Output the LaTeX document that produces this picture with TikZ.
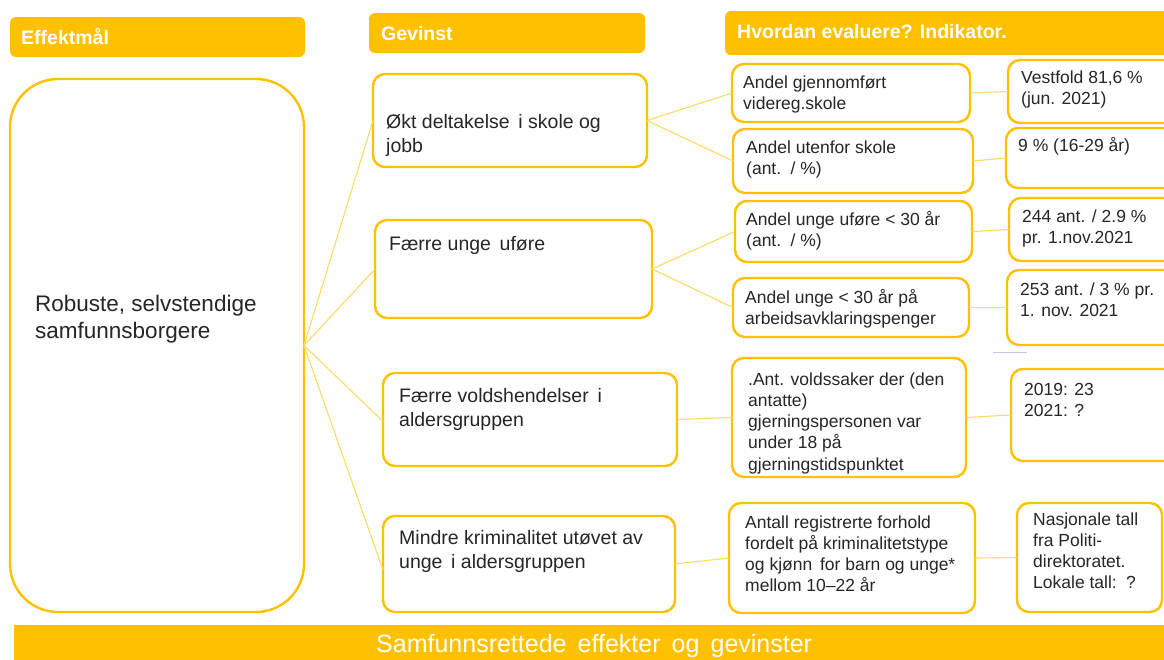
\documentclass[tikz,border=0pt]{standalone}
\usepackage{fontspec}
\setmainfont{Liberation Sans}
\definecolor{gold}{HTML}{FFC000}
\definecolor{linkc}{HTML}{FFD966}
\definecolor{txtc}{HTML}{262626}
\definecolor{lav}{HTML}{C8C8E6}
\begin{document}
\begin{tikzpicture}[x=1pt,y=-1pt,
  box/.style={draw=gold,line width=2.4pt,rounded corners=12pt,fill=white,anchor=north west,inner sep=0pt,outer sep=0pt},
  hdr/.style={fill=gold,rounded corners=6pt,anchor=north west,inner sep=0pt,outer sep=0pt},
  link/.style={draw=linkc,line width=1.1pt},
  htxt/.style={anchor=base west,inner sep=0pt,text=white,font=\bfseries\fontsize{19.5}{23}\selectfont},
  gtxt/.style={anchor=base west,inner sep=0pt,text=txtc,align=left,font=\fontsize{19.5}{24}\selectfont},
  itxt/.style={anchor=base west,inner sep=0pt,text=txtc,align=left,font=\fontsize{17.5}{21.3}\selectfont},
]
\useasboundingbox (0,0) rectangle (1164,659);
\clip (0,0) rectangle (1164,659);
\fill[white] (0,0) rectangle (1164,659);

% headers
\node[hdr,minimum width=295pt,minimum height=40pt] (heff) at (10,17) {};
\node[hdr,minimum width=276pt,minimum height=40pt] (hgev) at (369,13) {};
\node[hdr,minimum width=470pt,minimum height=44pt] (hhv) at (725,11) {};
\node[htxt] (theff) at (21,44) {Effektmål};
\node[htxt] (thgev) at (381,40) {Gevinst};
\node[htxt] (thhv) at (737,38) {Hvordan evaluere? Indikator.};

% boxes
\node[box,rounded corners=48pt,minimum width=294pt,minimum height=533pt] (rob) at (10,79) {};
\node[box,minimum width=274pt,minimum height=93pt] (g1) at (373,74) {};
\node[box,minimum width=277pt,minimum height=98pt] (g2) at (375,220) {};
\node[box,minimum width=294pt,minimum height=93pt] (g3) at (383,373) {};
\node[box,minimum width=292pt,minimum height=96pt] (g4) at (383,516) {};

\node[box,minimum width=238pt,minimum height=58pt] (i1) at (732,64) {};
\node[box,minimum width=240pt,minimum height=64pt] (i2) at (733,129) {};
\node[box,minimum width=237pt,minimum height=61pt] (i3) at (735,201) {};
\node[box,minimum width=236pt,minimum height=59pt] (i4) at (733,278) {};
\node[box,minimum width=234pt,minimum height=119pt] (i5) at (732,358) {};
\node[box,minimum width=246pt,minimum height=110pt] (i6) at (729,503) {};

\node[box,minimum width=200pt,minimum height=63pt] (v1) at (1008,60) {};
\node[box,minimum width=200pt,minimum height=60pt] (v2) at (1006,128) {};
\node[box,minimum width=200pt,minimum height=63pt] (v3) at (1009,198) {};
\node[box,minimum width=200pt,minimum height=75pt] (v4) at (1007,270) {};
\node[box,minimum width=200pt,minimum height=92pt] (v5) at (1011,369) {};
\node[box,minimum width=145pt,minimum height=109pt] (v6) at (1017,503) {};

% banner
\node[fill=gold,anchor=north west,inner sep=0pt,minimum width=1170pt,minimum height=40pt] (ban) at (14,625) {};
\node[anchor=base west,inner sep=0pt,text=white,font=\fontsize{25}{30}\selectfont] (tban) at (376,652) {Samfunnsrettede\, effekter\, og\, gevinster};

% connectors
\draw[link] (rob.east) -- (g1.west);
\draw[link] (rob.east) -- (g2.west);
\draw[link] (rob.east) -- ([yshift=-2pt]g3.west);
\draw[link] (rob.east) -- ([yshift=-6pt]g4.west);
\draw[link] (g1.east) -- (i1.west);
\draw[link] (g1.east) -- (i2.west);
\draw[link] (g2.east) -- (i3.west);
\draw[link] (g2.east) -- (i4.west);
\draw[link] (g3.east) -- (i5.west);
\draw[link] (g4.east) -- (i6.west);
\draw[link] (i1.east) -- (v1.west);
\draw[link] (i2.east) -- (v2.west);
\draw[link] (i3.east) -- (v3.west);
\draw[link] (i4.east) -- (v4.west);
\draw[link] (i5.east) -- (v5.west);
\draw[link] (i6.east) -- (v6.west);
\coordinate (la) at (993,352);
\coordinate (lb) at (1027,352);
\draw[lav,line width=1pt] (la) -- (lb);

% texts (base = baseline of last line)
\node[anchor=base west,inner sep=0pt,text=txtc,align=left,font=\fontsize{22.5}{27}\selectfont] (trob) at (35,338) {Robuste, selvstendige\\samfunnsborgere};
\node[gtxt] (tg1) at (386,152) {Økt deltakelse\, i skole og\\jobb};
\node[gtxt] (tg2) at (389,250) {Færre unge\, uføre};
\node[gtxt] (tg3) at (399,426) {Færre voldshendelser\, i\\aldersgruppen};
\node[gtxt] (tg4) at (399,568) {Mindre kriminalitet utøvet av\\unge\, i aldersgruppen};

\node[itxt] (ti1) at (743,109.3) {Andel gjennomført\\videreg.skole};
\node[itxt] (ti2) at (746,174.3) {Andel utenfor skole\\(ant.\, / \%)};
\node[itxt] (ti3) at (746,246.3) {Andel unge uføre < 30 år\\(ant.\, / \%)};
\node[itxt] (ti4) at (745,324.3) {Andel unge < 30 år på\\arbeidsavklaringspenger};
\node[itxt] (ti5) at (748,470.2) {.Ant. voldssaker der (den\\antatte)\\gjerningspersonen var\\under 18 på\\gjerningstidspunktet};
\node[itxt] (ti6) at (745,591.9) {Antall registrerte forhold\\fordelt på kriminalitetstype\\og kjønn\, for barn og unge*\\mellom 10–22 år};

\node[itxt] (tv1) at (1021,104.3) {Vestfold 81,6 \%\\(jun. 2021)};
\node[itxt] (tv2) at (1018,151) {9 \% (16-29 år)};
\node[itxt] (tv3) at (1022,243.3) {244 ant. / 2.9 \%\\pr. 1.nov.2021};
\node[itxt] (tv4) at (1020,316.3) {253 ant. / 3 \% pr.\\1. nov. 2021};
\node[itxt] (tv5) at (1024,416.3) {2019: 23\\2021: ?};
\node[itxt] (tv6) at (1033,588.9) {Nasjonale tall\\fra Politi-\\direktoratet.\\Lokale tall:\, ?};
\end{tikzpicture}
\end{document}
